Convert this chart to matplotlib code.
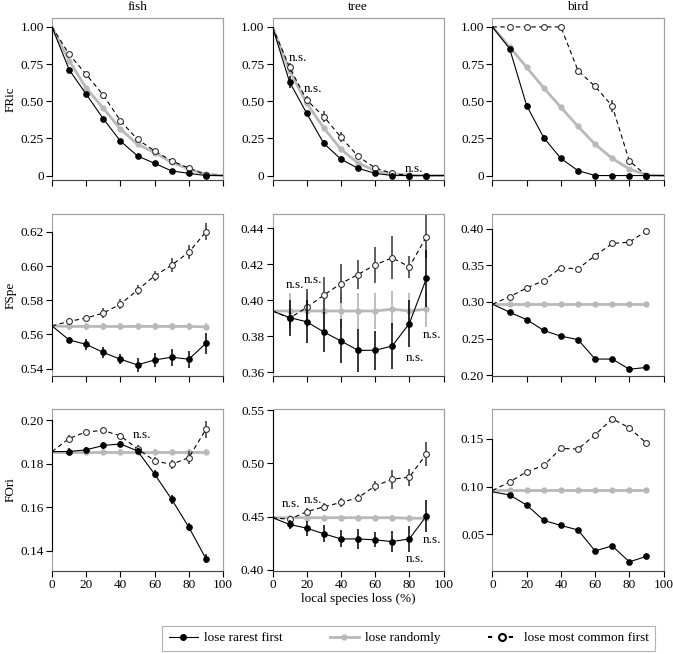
import matplotlib
matplotlib.use("Agg")
import matplotlib.pyplot as plt
from matplotlib.lines import Line2D
from matplotlib.patches import Rectangle

plt.rcParams['font.family'] = ['Liberation Serif', 'DejaVu Serif']
plt.rcParams['font.size'] = 9.5

groups = ['fish', 'tree', 'bird']
metrics = ['FRic', 'FSpe', 'FOri']

# species loss (%)
x_ric = [0, 10, 20, 30, 40, 50, 60, 70, 80, 90, 100]
x_std = [0, 10, 20, 30, 40, 50, 60, 70, 80, 90]

# FRic  (rarest, random, common)
fric_rare = {
    'fish': [1.0, 0.713, 0.547, 0.382, 0.232, 0.132, 0.082, 0.031, 0.015, 0.0, 0.0],
    'tree': [1.0, 0.629, 0.419, 0.216, 0.110, 0.049, 0.015, 0.0, 0.0, 0.0, 0.0],
    'bird': [1.0, 0.854, 0.470, 0.254, 0.115, 0.033, 0.0, 0.0, 0.0, 0.0, 0.0],
}
fric_rand = {
    'fish': [1.0, 0.773, 0.589, 0.453, 0.313, 0.210, 0.155, 0.088, 0.044, 0.010, 0.0],
    'tree': [1.0, 0.706, 0.486, 0.320, 0.177, 0.084, 0.033, 0.011, 0.003, 0.0, 0.0],
    'bird': [1.0, 0.865, 0.728, 0.589, 0.459, 0.331, 0.210, 0.115, 0.044, 0.005, 0.0],
}
fric_comm = {
    'fish': [1.0, 0.817, 0.680, 0.541, 0.369, 0.243, 0.166, 0.099, 0.050, 0.005, 0.0],
    'tree': [1.0, 0.728, 0.508, 0.397, 0.258, 0.130, 0.051, 0.015, 0.0, 0.0, 0.0],
    'bird': [1.0, 1.0, 1.0, 1.0, 1.0, 0.706, 0.600, 0.468, 0.099, 0.0, 0.0],
}
fric_rare_err = {
    'fish': [0, 0.01, 0.01, 0.01, 0.01, 0.008, 0.006, 0.004, 0.003, 0, 0],
    'tree': [0, 0.04, 0.015, 0.02, 0.02, 0.01, 0.005, 0, 0, 0, 0],
    'bird': [0, 0.01, 0.02, 0.02, 0.01, 0.005, 0, 0, 0, 0, 0],
}
fric_rand_err = {
    'fish': [0, 0.005, 0.005, 0.005, 0.005, 0.005, 0.004, 0.003, 0.002, 0, 0],
    'tree': [0, 0.01, 0.01, 0.01, 0.01, 0.008, 0.005, 0.003, 0, 0, 0],
    'bird': [0, 0.005, 0.005, 0.005, 0.005, 0.005, 0.004, 0.003, 0.002, 0, 0],
}
fric_comm_err = {
    'fish': [0, 0.01, 0.01, 0.01, 0.01, 0.01, 0.008, 0.006, 0.004, 0, 0],
    'tree': [0, 0.03, 0.03, 0.04, 0.035, 0.02, 0.008, 0.004, 0, 0, 0],
    'bird': [0, 0, 0, 0, 0, 0.02, 0.02, 0.04, 0.01, 0, 0],
}

# FSpe
fspe_rare = {
    'fish': [0.565, 0.5568, 0.5542, 0.5495, 0.5455, 0.5422, 0.5451, 0.5467, 0.5455, 0.5548],
    'tree': [0.394, 0.3903, 0.3880, 0.3823, 0.3773, 0.3721, 0.3721, 0.3745, 0.3870, 0.4121],
    'bird': [0.297, 0.2860, 0.2759, 0.2611, 0.2533, 0.2487, 0.2221, 0.2221, 0.2083, 0.2106],
}
fspe_rand = {
    'fish': [0.565, 0.5647, 0.5647, 0.5647, 0.5647, 0.5647, 0.5647, 0.5647, 0.5647, 0.5645],
    'tree': [0.394, 0.3940, 0.3940, 0.3940, 0.3940, 0.3940, 0.3940, 0.3950, 0.3940, 0.3950],
    'bird': [0.297, 0.297, 0.297, 0.297, 0.297, 0.297, 0.297, 0.297, 0.297, 0.297],
}
fspe_comm = {
    'fish': [0.565, 0.5677, 0.5696, 0.5726, 0.5777, 0.5860, 0.5943, 0.6006, 0.6081, 0.6200],
    'tree': [0.394, 0.3900, 0.3960, 0.4028, 0.4093, 0.4143, 0.4197, 0.4236, 0.4186, 0.4353],
    'bird': [0.297, 0.3071, 0.3191, 0.3292, 0.3467, 0.3453, 0.3632, 0.3798, 0.3816, 0.3968],
}
fspe_rare_err = {
    'fish': [0, 0.002, 0.003, 0.003, 0.003, 0.004, 0.004, 0.005, 0.005, 0.006],
    'tree': [0, 0.010, 0.012, 0.011, 0.012, 0.012, 0.011, 0.013, 0.013, 0.016],
    'bird': [0, 0.001, 0.001, 0.001, 0.001, 0.001, 0.001, 0.001, 0.001, 0.001],
}
fspe_rand_err = {
    'fish': [0, 0.002, 0.002, 0.002, 0.002, 0.002, 0.002, 0.002, 0.002, 0.002],
    'tree': [0, 0.010, 0.010, 0.010, 0.010, 0.010, 0.010, 0.010, 0.010, 0.010],
    'bird': [0, 0.001, 0.001, 0.001, 0.001, 0.001, 0.001, 0.001, 0.001, 0.001],
}
fspe_comm_err = {
    'fish': [0, 0.002, 0.002, 0.003, 0.003, 0.003, 0.003, 0.004, 0.004, 0.005],
    'tree': [0, 0.004, 0.010, 0.010, 0.011, 0.008, 0.010, 0.012, 0.006, 0.012],
    'bird': [0, 0.001, 0.001, 0.001, 0.001, 0.001, 0.002, 0.003, 0.004, 0.003],
}

# FOri
fori_rare = {
    'fish': [0.1856, 0.1856, 0.1864, 0.1884, 0.1891, 0.1859, 0.1752, 0.1636, 0.1508, 0.1363],
    'tree': [0.449, 0.4427, 0.4392, 0.4339, 0.4291, 0.4291, 0.4282, 0.4266, 0.4291, 0.4506],
    'bird': [0.0945, 0.0913, 0.0806, 0.0646, 0.0593, 0.0546, 0.0326, 0.0379, 0.0212, 0.0269],
}
fori_rand = {
    'fish': [0.1856, 0.1856, 0.1856, 0.1856, 0.1856, 0.1856, 0.1856, 0.1856, 0.1856, 0.1856],
    'tree': [0.449, 0.449, 0.449, 0.449, 0.449, 0.449, 0.449, 0.449, 0.4485, 0.4485],
    'bird': [0.0965, 0.0965, 0.0965, 0.0965, 0.0965, 0.0965, 0.0965, 0.0965, 0.0965, 0.0965],
}
fori_comm = {
    'fish': [0.1856, 0.1916, 0.1947, 0.1953, 0.1928, 0.1869, 0.1813, 0.1797, 0.1828, 0.1958],
    'tree': [0.449, 0.4475, 0.4547, 0.4592, 0.4633, 0.4677, 0.4788, 0.4851, 0.4870, 0.5089],
    'bird': [0.096, 0.1048, 0.1155, 0.1222, 0.1400, 0.1393, 0.1543, 0.1710, 0.1617, 0.1454],
}
fori_rare_err = {
    'fish': [0, 0.0015, 0.0015, 0.0015, 0.0015, 0.0015, 0.002, 0.002, 0.002, 0.002],
    'tree': [0, 0.004, 0.007, 0.008, 0.008, 0.009, 0.007, 0.010, 0.012, 0.015],
    'bird': [0, 0.001, 0.001, 0.001, 0.001, 0.001, 0.001, 0.001, 0.001, 0.001],
}
fori_rand_err = {
    'fish': [0, 0.001, 0.001, 0.001, 0.001, 0.001, 0.001, 0.001, 0.001, 0.001],
    'tree': [0, 0.003, 0.003, 0.003, 0.003, 0.003, 0.003, 0.003, 0.003, 0.003],
    'bird': [0, 0.001, 0.001, 0.001, 0.001, 0.001, 0.001, 0.001, 0.001, 0.001],
}
fori_comm_err = {
    'fish': [0, 0.0015, 0.0015, 0.0015, 0.0015, 0.0015, 0.002, 0.002, 0.003, 0.004],
    'tree': [0, 0.003, 0.003, 0.004, 0.004, 0.004, 0.005, 0.009, 0.008, 0.011],
    'bird': [0, 0.001, 0.001, 0.001, 0.001, 0.001, 0.001, 0.002, 0.003, 0.002],
}

ric_ticks = [0, 0.25, 0.5, 0.75, 1.0]
ric_labels = ['0', '0.25', '0.50', '0.75', '1.00']
yticks = {
    ('FRic', 'fish'): (ric_ticks, ric_labels),
    ('FRic', 'tree'): (ric_ticks, ric_labels),
    ('FRic', 'bird'): (ric_ticks, ric_labels),
    ('FSpe', 'fish'): ([0.54, 0.56, 0.58, 0.60, 0.62], ['0.54', '0.56', '0.58', '0.60', '0.62']),
    ('FSpe', 'tree'): ([0.36, 0.38, 0.40, 0.42, 0.44], ['0.36', '0.38', '0.40', '0.42', '0.44']),
    ('FSpe', 'bird'): ([0.20, 0.25, 0.30, 0.35, 0.40], ['0.20', '0.25', '0.30', '0.35', '0.40']),
    ('FOri', 'fish'): ([0.14, 0.16, 0.18, 0.20], ['0.14', '0.16', '0.18', '0.20']),
    ('FOri', 'tree'): ([0.40, 0.45, 0.50, 0.55], ['0.40', '0.45', '0.50', '0.55']),
    ('FOri', 'bird'): ([0.05, 0.10, 0.15], ['0.05', '0.10', '0.15']),
}
ylims = {
    ('FRic', 'fish'): (-0.03, 1.06),
    ('FRic', 'tree'): (-0.03, 1.06),
    ('FRic', 'bird'): (-0.03, 1.06),
    ('FSpe', 'fish'): (0.5357, 0.6305),
    ('FSpe', 'tree'): (0.3578, 0.448),
    ('FSpe', 'bird'): (0.199, 0.42),
    ('FOri', 'fish'): (0.1306, 0.2052),
    ('FOri', 'tree'): (0.399, 0.551),
    ('FOri', 'bird'): (0.0116, 0.1813),
}

# "n.s." labels: (metric, group, x, y)
ns_labels = [
    ('FRic', 'tree', 9.5, 0.79), ('FRic', 'tree', 18.0, 0.585), ('FRic', 'tree', 77.5, 0.045),
    ('FSpe', 'tree', 7.8, 0.4086), ('FSpe', 'tree', 18.2, 0.4112),
    ('FSpe', 'tree', 88.0, 0.3807), ('FSpe', 'tree', 78.0, 0.368),
    ('FOri', 'fish', 47.5, 0.193),
    ('FOri', 'tree', 5.5, 0.4614), ('FOri', 'tree', 18.0, 0.466),
    ('FOri', 'tree', 88.0, 0.4285), ('FOri', 'tree', 78.0, 0.410),
]

data = {
    'FRic': (x_ric, fric_rare, fric_rand, fric_comm, fric_rare_err, fric_rand_err, fric_comm_err),
    'FSpe': (x_std, fspe_rare, fspe_rand, fspe_comm, fspe_rare_err, fspe_rand_err, fspe_comm_err),
    'FOri': (x_std, fori_rare, fori_rand, fori_comm, fori_rare_err, fori_rand_err, fori_comm_err),
}

W, H = 673, 654
GRAY = '#b9b9b9'
BOX = '#a0a0a0'

fig = plt.figure(figsize=(W / 100, H / 100), dpi=100)

col_left = [52, 272.5, 492.5]
row_top = [18, 214, 409]
aw, ah = 171, 162

for i, m in enumerate(metrics):
    xs, rare, rand, comm, rare_e, rand_e, comm_e = data[m]
    for j, g in enumerate(groups):
        ax = fig.add_axes([col_left[j] / W, 1 - (row_top[i] + ah) / H, aw / W, ah / H])
        mk = slice(1, 10)
        # random
        ax.errorbar(xs, rand[g], yerr=rand_e[g], fmt='none', ecolor=GRAY, elinewidth=1.3, capsize=0, zorder=1)
        ax.plot(xs, rand[g], color=GRAY, lw=2.0, marker='o', ms=3.5, markevery=mk, zorder=2)
        # most common first
        ax.errorbar(xs, comm[g], yerr=comm_e[g], fmt='none', ecolor='#333333', elinewidth=1.1, capsize=0, zorder=3)
        ax.plot(xs, comm[g], color='black', lw=0.8, ls=(0, (4, 3)), marker='o', ms=4.2,
                mfc='white', mec='#333333', mew=0.8, markevery=mk, zorder=4)
        # rarest first
        ax.errorbar(xs, rare[g], yerr=rare_e[g], fmt='none', ecolor='black', elinewidth=1.1, capsize=0, zorder=5)
        ax.plot(xs, rare[g], color='black', lw=0.8, marker='o', ms=3.8, markevery=mk, zorder=6)

        ax.set_xlim(0, 100)
        ax.set_ylim(*ylims[(m, g)])
        ticks, labels = yticks[(m, g)]
        ax.set_yticks(ticks)
        ax.set_yticklabels(labels)
        ax.set_xticks([0, 20, 40, 60, 80, 100])
        if i < 2:
            ax.set_xticklabels([])
        ax.tick_params(direction='out', length=4, width=0.8, colors='black', labelsize=9.5, pad=2)

        for s in ['top', 'right']:
            ax.spines[s].set_color(BOX)
        ax.spines['bottom'].set_color('#444444')
        ax.spines['left'].set_bounds(ticks[0], ticks[-1])
        ax.spines['left'].set_color('black')
        ax.add_patch(Rectangle((0, 0), 1, 1, transform=ax.transAxes, fill=False,
                               edgecolor=BOX, lw=0.8, zorder=0, clip_on=False))

        for (mm, gg, tx, ty) in ns_labels:
            if mm == m and gg == g:
                ax.text(tx, ty, 'n.s.', ha='left', va='center', fontsize=9.5, zorder=7)

for j, g in enumerate(groups):
    fig.text((col_left[j] + aw / 2) / W, 1 - 7 / H, g, ha='center', va='center', fontsize=9.5)
for i, m in enumerate(metrics):
    fig.text(11 / W, 1 - (row_top[i] + ah / 2) / H, m, ha='center', va='center', rotation=90, fontsize=9.5)
fig.text((col_left[1] + aw / 2) / W, 1 - 599 / H, 'local species loss (%)', ha='center', va='center', fontsize=9.5)

handles = [
    Line2D([], [], color='black', lw=0.8, marker='o', ms=4),
    Line2D([], [], color=GRAY, lw=2.0, marker='o', ms=3.5),
    Line2D([], [], color='black', lw=1.5, ls=(0, (2, 3)), marker='o', ms=5, mfc='white', mew=1.5),
]
leg = fig.legend(handles, ['lose rarest first', 'lose randomly', 'lose most common first'],
                 loc='lower left', bbox_to_anchor=(162 / W, 1 - 651 / H, 493 / W, 29 / H),
                 mode='expand', ncol=3, fancybox=False, fontsize=9.5, borderaxespad=0,
                 handlelength=2.2, handletextpad=0.5, borderpad=0.5)
leg.get_frame().set_edgecolor(BOX)
leg.get_frame().set_linewidth(0.8)

fig.savefig('out.png', dpi=100)
